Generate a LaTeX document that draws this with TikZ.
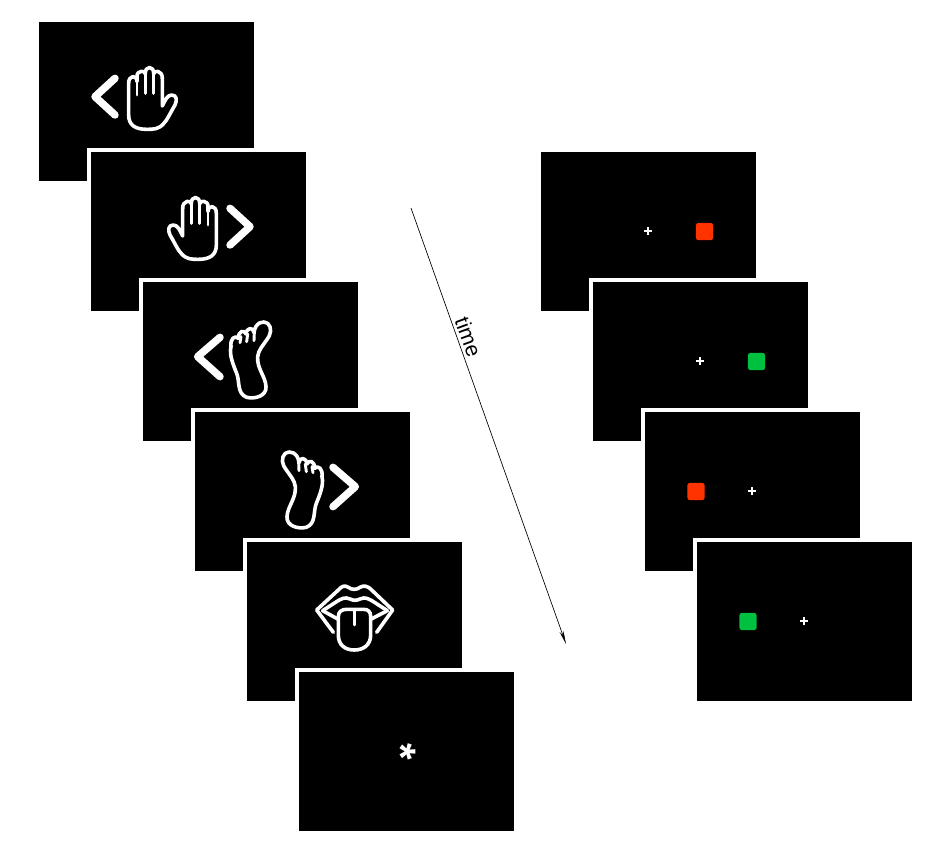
\documentclass[tikz,border=0pt]{standalone}
\usepackage{fontspec}
\setmainfont{Liberation Sans}
\usetikzlibrary{arrows.meta}
\definecolor{stimred}{HTML}{FF3300}
\definecolor{stimgreen}{HTML}{00C040}
\tikzset{
  screen/.style={fill=black,draw=white,line width=3pt,minimum width=164.25pt,minimum height=122.25pt,inner sep=0pt,outer sep=0pt},
  icon/.style={draw=white,line width=2.7pt,line join=round,line cap=round},
  iconthin/.style={draw=white,line width=2.2pt,line cap=round},
  chevron/.style={draw=white,line width=5.6pt,line join=round,line cap=round},
  fixcross/.style={draw=white,line width=1.7pt},
  patch/.style={minimum width=13pt,minimum height=13pt,inner sep=0pt,rounded corners=2pt},
  timearrow/.style={draw=black,line width=0.5pt,-{Stealth[length=10pt,width=3pt]}},
  pics/handicon/.style={code={
    \draw[icon] (146,195) -- (146,100) .. controls (146,74) and (171,74) .. (171,95)
      -- (171,80) .. controls (169,60) and (198,60) .. (196,72)
      .. controls (194,46) and (223,46) .. (221,72)
      .. controls (219,60) and (249,58) .. (247,88)
      -- (247,168) .. controls (255,150) and (263,135) .. (275,135)
      .. controls (290,135) and (292,150) .. (285,165)
      .. controls (270,190) and (262,210) .. (250,222)
      .. controls (235,238) and (220,238) .. (200,238)
      .. controls (165,238) and (146,225) .. (146,195) -- cycle;
    \draw[iconthin] (171,95) -- (171,135) (196,72) -- (196,130) (221,72) -- (221,130);
    \draw[chevron] (105,85) -- (45,140) -- (105,195);
  }},
  pics/footicon/.style={code={
    \draw[icon] (138,110) .. controls (135,85) and (150,75) .. (160,85)
      .. controls (160,62) and (178,58) .. (183,72)
      .. controls (185,52) and (205,50) .. (207,68)
      .. controls (210,38) and (235,30) .. (248,40)
      .. controls (262,52) and (258,75) .. (245,90)
      .. controls (235,105) and (220,120) .. (218,140)
      .. controls (215,175) and (242,200) .. (243,230)
      .. controls (245,258) and (210,268) .. (185,262)
      .. controls (155,250) and (165,215) .. (155,190)
      .. controls (145,165) and (132,135) .. (138,110) -- cycle;
    \draw[iconthin] (168,80) -- (165,98) (188,72) -- (185,95) (208,68) -- (207,92);
    \draw[chevron] (105,82) -- (38,140) -- (105,200);
  }},
}
\begin{document}
\begin{tikzpicture}[x=0.75pt,y=-0.75pt]
\useasboundingbox (0,0) rectangle (951,853);
\node[screen] (s1) at (146.5,101.5) {};
\node[screen] (s2) at (198.5,231.5) {};
\node[screen] (s3) at (250.5,361.5) {};
\node[screen] (s4) at (302.5,491.5) {};
\node[screen] (s5) at (354.5,621.5) {};
\node[screen] (s6) at (406.5,751.5) {};
\node[screen] (r1) at (648.5,231.5) {};
\node[screen] (r2) at (700.5,361.5) {};
\node[screen] (r3) at (752.5,491.5) {};
\node[screen] (r4) at (804.5,621.5) {};
% hands
\pic[shift={(80,50)},scale=1/3] {handicon};
\pic[shift={(265,180)},xscale=-1/3,yscale=1/3] {handicon};
% feet
\pic[shift={(185,310)},scale=1/3] {footicon};
\pic[shift={(368,440)},xscale=-1/3,yscale=1/3] {footicon};
% tongue
\begin{scope}[shift={(300,570)},scale=1/3]
\draw[icon] (100,187) -- (50,120) -- (115,60) .. controls (125,48) and (135,45) .. (145,52) .. controls (155,60) and (170,60) .. (180,52) .. controls (190,45) and (205,48) .. (215,60) -- (278,120) -- (230,187);
\draw[icon] (68,122) -- (105,98) .. controls (125,85) and (135,80) .. (150,87) .. controls (160,92) and (170,92) .. (180,87) .. controls (195,80) and (205,85) .. (225,98) -- (262,122);
\draw[icon] (68,122) -- (115,148) (262,122) -- (212,148);
\draw[icon] (115,195) -- (115,140) .. controls (115,125) and (125,118) .. (140,118) -- (190,118) .. controls (205,118) and (212,125) .. (212,140) -- (212,195) .. controls (212,225) and (190,240) .. (163,240) .. controls (135,240) and (115,225) .. (115,195) -- cycle;
\draw[iconthin] (163,120) -- (163,165);
\end{scope}
% fixation star
\node[text=white,font=\fontsize{32pt}{32pt}\selectfont\bfseries,rotate=-90,inner sep=0pt] (star) at (400.7,751.5) {*};
% crosses
\draw[fixcross] (644,231) -- (652,231) (648,227) -- (648,235);
\draw[fixcross] (696,361) -- (704,361) (700,357) -- (700,365);
\draw[fixcross] (748,491) -- (756,491) (752,487) -- (752,495);
\draw[fixcross] (800,621) -- (808,621) (804,617) -- (804,625);
% coloured squares
\node[patch,fill=stimred] (p1) at (704.5,231.5) {};
\node[patch,fill=stimgreen] (p2) at (756.5,361.5) {};
\node[patch,fill=stimred] (p3) at (696,491.5) {};
\node[patch,fill=stimgreen] (p4) at (748,621.5) {};
% time arrow
\coordinate (tstart) at (411,208);
\coordinate (tend) at (566,644);
\draw[timearrow] (tstart) -- (tend);
\node[rotate=-70,font=\fontsize{16pt}{16pt}\selectfont,inner sep=0pt] (timelabel) at (468.5,337) {time};
\end{tikzpicture}
\end{document}
